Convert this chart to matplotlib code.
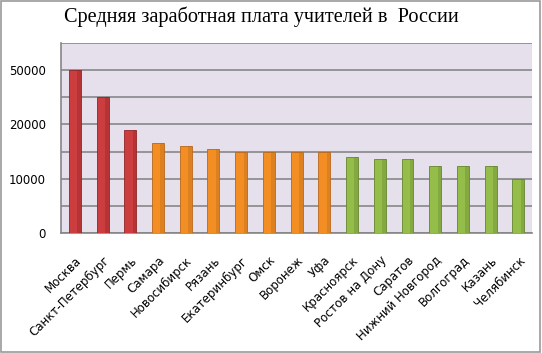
import numpy as np
import matplotlib
matplotlib.use("Agg")
import matplotlib.pyplot as plt
from matplotlib.patches import Rectangle

cities = ["Москва", "Санкт-Петербург", "Пермь", "Самара", "Новосибирск", "Рязань",
          "Екатеринбург", "Омск", "Воронеж", "Уфа", "Красноярск", "Ростов на Дону",
          "Саратов", "Нижний Новгород", "Волгоград", "Казань", "Челябинск"]
salary = [50000, 35000, 19000, 16500, 16000, 15500, 15000, 15000, 15000, 15000,
          14000, 13700, 13700, 12400, 12400, 12400, 10000]
group = ["r", "r", "r", "o", "o", "o", "o", "o", "o", "o",
         "g", "g", "g", "g", "g", "g", "g"]
ytick_vals = [0, 10000, 20000, 50000]
ytick_labels = ["0", "10000", "20000", "50000"]
grid_vals = [5000, 15000, 35000]

colors = {"r": "#cc3d3f", "o": "#f28e24", "g": "#95bd4a"}
shades = {"r": "#8e2426", "o": "#b8661a", "g": "#64842e"}


# ось в исходнике нелинейная: выше 20000 шаг сжат в 3 раза
def fwd(y):
    y = np.asarray(y, dtype=float)
    return np.where(y <= 20000, y, 20000 + (y - 20000) / 3)


def inv(v):
    v = np.asarray(v, dtype=float)
    return np.where(v <= 20000, v, 20000 + (v - 20000) * 3)


fig = plt.figure(figsize=(5.42, 3.53), dpi=100)
ax = fig.add_axes([0.1125, 0.34, 0.8695, 0.538])
ax.set_yscale("function", functions=(fwd, inv))
ax.set_facecolor("#e6e0ec")

x = np.arange(len(cities))
ax.bar(x, salary, width=0.43, color=[colors[g] for g in group],
       edgecolor=[shades[g] for g in group], linewidth=0.6, zorder=3)
# тёмная полоса справа -- имитация объёма
ax.bar(x + 0.15, salary, width=0.13, color=[shades[g] for g in group],
       alpha=0.35, linewidth=0, zorder=4)

ax.set_xlim(-0.5, len(cities) - 0.5)
ax.set_ylim(0, 65000)

ax.set_yticks(ytick_vals)
ax.set_yticklabels(ytick_labels, fontsize=8.5, family="DejaVu Sans")
ax.set_yticks(grid_vals, minor=True)
ax.yaxis.set_minor_formatter(plt.NullFormatter())
ax.tick_params(axis="y", which="both", length=0, pad=11)
for v in ytick_vals + grid_vals + [65000]:
    ax.axhline(v, color="#868686", linewidth=1.2, zorder=1)

ax.set_xticks(x)
ax.set_xticklabels(cities, rotation=45, ha="right", va="top",
                   rotation_mode="anchor", fontsize=8.5, family="DejaVu Sans")
ax.tick_params(axis="x", length=0, pad=15)

for side in ["top", "right"]:
    ax.spines[side].set_visible(False)
for side in ["left", "bottom"]:
    ax.spines[side].set_color("#868686")
    ax.spines[side].set_linewidth(1.2)

fig.text(0.483, 0.952, "Средняя заработная плата учителей в  России",
         ha="center", va="center", fontsize=14.6, family="Liberation Serif")

fig.patches.append(Rectangle((0.002, 0.004), 0.995, 0.992, transform=fig.transFigure,
                             fill=False, edgecolor="#9a9a9a", linewidth=1.2))

fig.savefig("out.png", dpi=100)
